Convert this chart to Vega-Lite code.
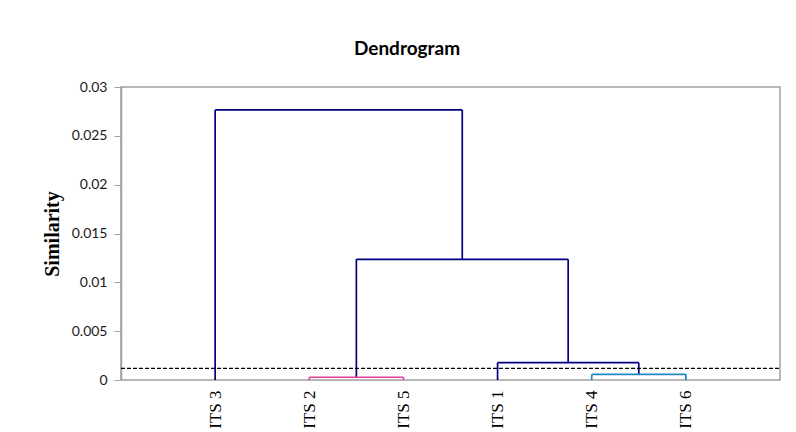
{
  "$schema": "https://vega.github.io/schema/vega-lite/v6.json",
  "width": 659,
  "height": 293,
  "autosize": {"type": "none"},
  "padding": {"left": 121, "top": 87, "right": 16, "bottom": 52},
  "background": "white",
  "title": {
    "text": "Dendrogram",
    "font": "Lato",
    "fontSize": 19,
    "fontWeight": "bold",
    "color": "#000000",
    "dx": -43.5,
    "offset": 6,
    "baseline": "alphabetic"
  },
  "config": {"view": {"stroke": "#a0a0a0", "strokeWidth": 1.5}},
  "layer": [
    {
      "data": {
        "values": [
          {"x": 1, "x2": 1, "y": 0, "y2": 0.02765, "grp": "main"},
          {"x": 1, "x2": 3.625, "y": 0.02765, "y2": 0.02765, "grp": "main"},
          {"x": 3.625, "x2": 3.625, "y": 0.01236, "y2": 0.02765, "grp": "main"},
          {"x": 2.5, "x2": 4.75, "y": 0.01236, "y2": 0.01236, "grp": "main"},
          {"x": 2.5, "x2": 2.5, "y": 0.00028, "y2": 0.01236, "grp": "main"},
          {"x": 2, "x2": 2, "y": 0, "y2": 0.00028, "grp": "pink"},
          {"x": 2, "x2": 3, "y": 0.00028, "y2": 0.00028, "grp": "pink"},
          {"x": 3, "x2": 3, "y": 0, "y2": 0.00028, "grp": "pink"},
          {"x": 4.75, "x2": 4.75, "y": 0.00177, "y2": 0.01236, "grp": "main"},
          {"x": 4, "x2": 5.5, "y": 0.00177, "y2": 0.00177, "grp": "main"},
          {"x": 4, "x2": 4, "y": 0, "y2": 0.00177, "grp": "main"},
          {"x": 5.5, "x2": 5.5, "y": 0.00058, "y2": 0.00177, "grp": "main"},
          {"x": 5, "x2": 5, "y": 0, "y2": 0.00058, "grp": "cyan"},
          {"x": 5, "x2": 6, "y": 0.00058, "y2": 0.00058, "grp": "cyan"},
          {"x": 6, "x2": 6, "y": 0, "y2": 0.00058, "grp": "cyan"}
        ]
      },
      "mark": {"type": "rule", "strokeWidth": 1.7},
      "encoding": {
        "x": {
          "field": "x",
          "type": "quantitative",
          "scale": {"domain": [0, 7], "nice": false, "zero": false},
          "axis": {
            "values": [1, 2, 3, 4, 5, 6],
            "labelExpr": "['','ITS 3','ITS 2','ITS 5','ITS 1','ITS 4','ITS 6'][datum.value]",
            "labelAngle": 270,
            "labelFont": "Liberation Serif",
            "labelFontSize": 17,
            "labelColor": "#000000",
            "labelPadding": 10,
            "labelOverlap": false,
            "ticks": false,
            "domain": false,
            "grid": false,
            "title": null
          }
        },
        "x2": {"field": "x2"},
        "y": {
          "field": "y",
          "type": "quantitative",
          "scale": {"domain": [0, 0.03], "nice": false},
          "axis": {
            "values": [0, 0.005, 0.01, 0.015, 0.02, 0.025, 0.03],
            "format": "~g",
            "labelFont": "Lato",
            "labelFontSize": 14,
            "labelColor": "#1a1a1a",
            "labelPadding": 7,
            "tickSize": 7,
            "tickColor": "#a0a0a0",
            "domainColor": "#a0a0a0",
            "domainWidth": 1.5,
            "grid": false,
            "title": "Similarity",
            "titleFont": "Liberation Serif",
            "titleFontSize": 20,
            "titleFontWeight": "bold",
            "titleColor": "#000000",
            "titleAngle": 270,
            "titleX": -69,
            "titleY": 146.5,
            "titleBaseline": "middle",
            "titleAlign": "center"
          }
        },
        "y2": {"field": "y2"},
        "color": {
          "field": "grp",
          "type": "nominal",
          "scale": {"domain": ["main", "pink", "cyan"], "range": ["#000080", "#E0409A", "#1E86C0"]},
          "legend": null
        }
      }
    },
    {
      "data": {"values": [{"x": 0, "x2": 7, "y": 0.0012}]},
      "mark": {"type": "rule", "color": "#000000", "strokeDash": [4, 2], "strokeWidth": 1.2},
      "encoding": {
        "x": {"field": "x", "type": "quantitative"},
        "x2": {"field": "x2"},
        "y": {"field": "y", "type": "quantitative"}
      }
    }
  ]
}
